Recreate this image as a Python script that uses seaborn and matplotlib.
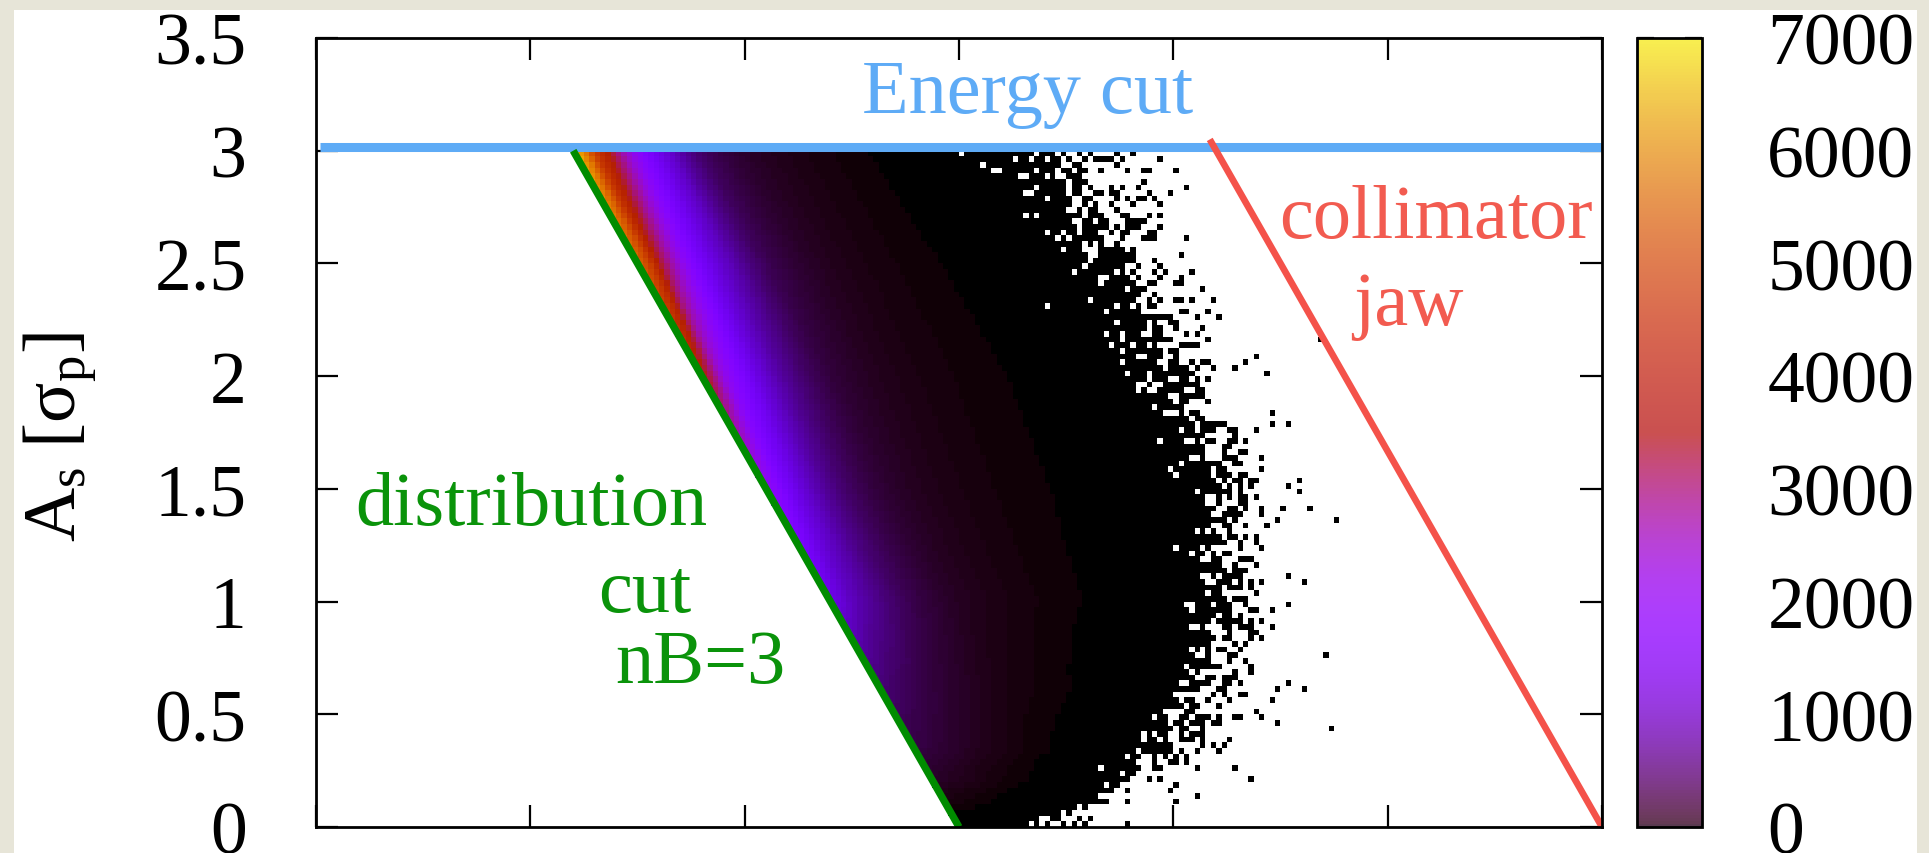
import numpy as np
import pandas as pd
import matplotlib
matplotlib.use("Agg")
import matplotlib.pyplot as plt
import seaborn as sns
from matplotlib.colors import Normalize, ListedColormap
from matplotlib.cm import ScalarMappable
from matplotlib.patches import Rectangle

# ---------------------------------------------------------------------------
# Binned particle counts.  Rows: A_s level [sigma_p]; columns: horizontal
# distance from the distribution cut (A_x - A_x,cut) in sigma.
# ---------------------------------------------------------------------------
as_rows = [0.0, 0.1, 0.2, 0.35, 0.6, 1.0, 1.5, 2.0, 2.5, 3.0]
u_cols = [0.0, 0.05, 0.1, 0.2, 0.3, 0.45, 0.6, 0.8, 1.0, 1.3, 1.6, 1.9, 2.2, 2.5, 2.8, 3.5]

counts_as_000 = [4, 3.5, 3, 2, 1.2, 0.5, 0.12, 0.02, 0.003, 2e-4, 1e-5, 1e-6, 1e-6, 1e-6, 1e-6, 1e-7]
counts_as_010 = [60, 55, 45, 25, 12, 4.5, 1.5, 0.3, 0.05, 0.004, 1e-4, 1e-5, 1e-6, 1e-6, 1e-6, 1e-7]
counts_as_020 = [180, 165, 140, 100, 60, 25, 6, 1.2, 0.25, 0.02, 0.001, 1e-5, 1e-6, 1e-6, 1e-6, 1e-7]
counts_as_035 = [320, 300, 260, 200, 140, 80, 35, 10, 3, 0.5, 0.04, 0.002, 1e-4, 1e-5, 1e-6, 1e-7]
counts_as_060 = [520, 480, 410, 320, 230, 140, 80, 40, 15, 3, 0.5, 0.05, 0.003, 2e-4, 1e-5, 1e-7]
counts_as_100 = [1300, 1150, 950, 700, 480, 280, 160, 90, 50, 18, 5, 0.8, 0.03, 0.001, 1e-4, 1e-7]
counts_as_150 = [2200, 1900, 1500, 1000, 650, 350, 200, 110, 65, 30, 11, 3.5, 0.7, 0.06, 0.003, 1e-7]
counts_as_200 = [3600, 3000, 2300, 1600, 1050, 550, 280, 150, 85, 40, 16, 5, 1.2, 0.08, 0.005, 1e-7]
counts_as_250 = [5200, 4500, 3400, 2300, 1500, 850, 400, 190, 100, 42, 14, 4.0, 1.3, 0.15, 0.012, 1e-7]
counts_as_300 = [6400, 5600, 4300, 3000, 2000, 1050, 450, 200, 110, 40, 8, 2.5, 1.0, 0.3, 0.05, 1e-7]

count_table = [counts_as_000, counts_as_010, counts_as_020, counts_as_035, counts_as_060,
               counts_as_100, counts_as_150, counts_as_200, counts_as_250, counts_as_300]

# Cut lines in (A_x, A_s)
dist_cut_ax = [3.0, 1.2]
dist_cut_as = [0.0, 3.0]
jaw_ax = [6.0, 4.17]
jaw_as = [0.0, 3.05]
energy_cut_ax = [0.02, 6.0]
energy_cut_as = [3.015, 3.015]

x_ticks = [0, 1, 2, 3, 4, 5, 6]
y_ticks = [0, 0.5, 1, 1.5, 2, 2.5, 3, 3.5]
y_tick_labels = ["0", "0.5", "1", "1.5", "2", "2.5", "3", "3.5"]
cbar_ticks = [0, 1000, 2000, 3000, 4000, 5000, 6000, 7000]
cbar_tick_labels = ["0", "1000", "2000", "3000", "4000", "5000", "6000", "7000"]
bin_width = 0.025

# ---------------------------------------------------------------------------
# Build the 2D histogram grid from the table
# ---------------------------------------------------------------------------
x_edges = np.arange(0.0, 6.0 + bin_width / 2, bin_width)
y_edges = np.arange(0.0, 3.0 + bin_width / 2, bin_width)
xc = 0.5 * (x_edges[:-1] + x_edges[1:])
yc = 0.5 * (y_edges[:-1] + y_edges[1:])
X, Y = np.meshgrid(xc, yc)

cut_x = np.interp(Y, dist_cut_as, dist_cut_ax)
U = X - cut_x

log_tab = np.log10(np.array(count_table, dtype=float))
L = np.stack([np.interp(U.ravel(), u_cols, row).reshape(U.shape) for row in log_tab])
k = np.interp(Y, as_rows, np.arange(len(as_rows)))
k0 = np.clip(np.floor(k).astype(int), 0, len(as_rows) - 2)
f = k - k0
L0 = np.take_along_axis(L, k0[None], 0)[0]
L1 = np.take_along_axis(L, (k0 + 1)[None], 0)[0]
lam = 10 ** ((1 - f) * L0 + f * L1)

# hashed dither threshold deciding which sparse fringe bins are populated
iy, ix = np.indices(lam.shape)
dither = np.mod(np.abs(np.sin(ix * 12.9898 + iy * 78.233)) * 43758.5453, 1.0)
occupied = (U >= 0) & ((1.0 - np.exp(-lam)) > dither)
N = np.where(occupied, np.maximum(lam, 1.0), 0.0)

df = pd.DataFrame({"A_x": X.ravel(), "A_s": Y.ravel(), "N": N.ravel()})

# ---------------------------------------------------------------------------
# Figure
# ---------------------------------------------------------------------------
sns.set_theme(style="white")
plt.rcParams["font.family"] = ["Liberation Serif", "DejaVu Serif"]
plt.rcParams["mathtext.fontset"] = "custom"
plt.rcParams["mathtext.rm"] = "Liberation Serif"
plt.rcParams["mathtext.it"] = "Liberation Serif:italic"

W, H = 1929, 854
fig = plt.figure(figsize=(W / 100, H / 100), dpi=100)
fig.patch.set_facecolor("#e7e5d8")
fig.add_artist(Rectangle((14 / W, 0), (1917 - 14) / W, 1 - 11 / H,
                         transform=fig.transFigure, facecolor="white",
                         edgecolor="none", zorder=-5))

ax_l, ax_r, ax_t, ax_b = 316, 1602, 39, 828
ax = fig.add_axes([ax_l / W, 1 - ax_b / H, (ax_r - ax_l) / W, (ax_b - ax_t) / H])
ax.set_facecolor("white")

norm = Normalize(0, 7000)
sns.histplot(data=df, x="A_x", y="A_s", weights="N", bins=(x_edges, y_edges),
             cmap="gnuplot", vmin=0, vmax=7000, cbar=False, ax=ax, zorder=1)

ax.set_xlim(0, 6)
ax.set_ylim(0, 3.5)

# cut lines
sns.lineplot(x=energy_cut_ax, y=energy_cut_as, sort=False, color="#5eabf6",
             lw=6.5, ax=ax, zorder=4, solid_capstyle="butt")
sns.lineplot(x=dist_cut_ax, y=dist_cut_as, sort=False, color="#008c00",
             lw=5.3, ax=ax, zorder=5, solid_capstyle="butt")
sns.lineplot(x=jaw_ax, y=jaw_as, sort=False, color="#f4524a",
             lw=4.8, ax=ax, zorder=5, solid_capstyle="butt")

# annotations
fs_ann = 55
ax.text(3.32, 3.172, "Energy cut", color="#5eabf6", fontsize=fs_ann,
        ha="center", va="baseline", zorder=6)
ax.text(5.226, 2.617, "collimator", color="#f25b50", fontsize=fs_ann,
        ha="center", va="baseline", zorder=6)
ax.text(5.095, 2.231, "jaw", color="#f25b50", fontsize=fs_ann,
        ha="center", va="baseline", zorder=6)
ax.text(0.182, 1.344, "distribution", color="#0a930a", fontsize=fs_ann,
        ha="left", va="baseline", zorder=6)
ax.text(1.535, 0.958, "cut", color="#0a930a", fontsize=fs_ann,
        ha="center", va="baseline", zorder=6)
ax.text(1.792, 0.643, "nB=3", color="#0a930a", fontsize=fs_ann,
        ha="center", va="baseline", zorder=6)

# axes styling
ax.set_xlabel("")
ax.set_ylabel("")
ax.set_xticks(x_ticks)
ax.set_yticks(y_ticks, y_tick_labels)
ax.tick_params(axis="x", which="both", direction="in", top=True, bottom=True,
               length=16, width=1.6, color="black", labelbottom=False)
ax.tick_params(axis="y", which="both", direction="in", left=True, right=True,
               length=16, width=1.6, color="black", labelsize=53, pad=50,
               labelcolor="black")
for s in ax.spines.values():
    s.set_visible(True)
    s.set_color("black")
    s.set_linewidth(2.0)
    s.set_zorder(7)
ax.grid(False)

fig.text(60 / W, 1 - 437 / H, r"$\mathrm{A_s\ [\sigma_p]}$", rotation=90,
         ha="center", va="center", fontsize=54, color="black")

# colour bar
base = plt.get_cmap("gnuplot")(np.linspace(0, 1, 256))[:, :3] * 255
bar_rgb = np.column_stack([90 + 0.62 * base[:, 0],
                           58 + 0.71 * base[:, 1],
                           80 + 0.68 * base[:, 2]]) / 255
bar_cmap = ListedColormap(np.clip(bar_rgb, 0, 1))
cax = fig.add_axes([1637 / W, 1 - ax_b / H, 65 / W, (ax_b - ax_t) / H])
cb = fig.colorbar(ScalarMappable(norm=norm, cmap=bar_cmap), cax=cax, ticks=cbar_ticks)
cb.set_ticklabels(cbar_tick_labels)
cb.outline.set_linewidth(2.0)
cb.outline.set_edgecolor("black")
cax.tick_params(direction="in", left=True, right=True, length=12, width=1.6,
                color="black", labelsize=53, pad=47, labelcolor="black")

fig.savefig("out.png", dpi=100)
